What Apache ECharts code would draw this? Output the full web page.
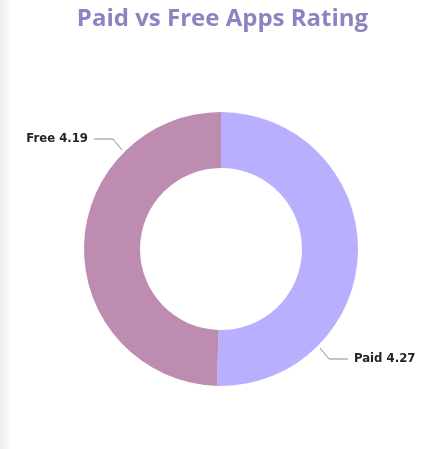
<!DOCTYPE html>
<html>
<head>
<meta charset="utf-8">
<script src="https://cdn.jsdelivr.net/npm/echarts@6/dist/echarts.min.js"></script>
<style>
html,body{margin:0;padding:0;background:#fff;}
#strip{position:absolute;left:0;top:0;width:12px;height:449px;background:linear-gradient(to right,#eceeed,#ffffff);}
#c{position:absolute;left:0;top:0;width:445px;height:449px;}
</style>
</head>
<body>
<div id="strip"></div>
<div id="c"></div>
<script>
const categories = ['Paid', 'Free'];
const ratings = [4.27, 4.19];
const colors = ['#b8b0fe', '#bf8cb1'];

const CX = 221, CY = 249, R_IN = 81, R_OUT = 137;

const chart = echarts.init(document.getElementById('c'));
chart.setOption({
  title: {
    text: 'Paid vs Free Apps Rating',
    left: 'center',
    top: 2,
    textStyle: { color: '#8a84c2', fontFamily: 'Open Sans', fontWeight: 'bold', fontSize: 24 }
  },
  series: [{
    type: 'pie',
    center: [CX, CY],
    radius: [R_IN, R_OUT],
    startAngle: 90,
    clockwise: true,
    silent: true,
    data: categories.map((c, i) => ({ name: c, value: ratings[i], itemStyle: { color: colors[i] } })),
    label: {
      show: true,
      overflow: 'none',
      width: 100,
      formatter: p => p.name + ' ' + p.value.toFixed(2),
      fontFamily: 'DejaVu Sans Condensed',
      fontWeight: 'bold',
      fontSize: 13,
      color: '#252423'
    },
    labelLine: { show: true, lineStyle: { color: '#8a8a8a', width: 1 } },
    labelLayout: function (params) {
      const side = params.dataIndex === 0 ? 1 : -1; // Paid: lower right, Free: upper left
      const r = R_OUT + 3;
      const ax = CX + side * r * Math.SQRT1_2;
      const ay = CY + side * r * Math.SQRT1_2;
      const ex = ax + side * 9;
      const ey = ay + side * 11;
      const hx = ex + side * 19;
      return {
        x: hx + side * 6,
        y: ey,
        align: side > 0 ? 'left' : 'right',
        verticalAlign: 'middle',
        labelLinePoints: [[ax, ay], [ex, ey], [hx, ey]]
      };
    }
  }]
});
</script>
</body>
</html>
